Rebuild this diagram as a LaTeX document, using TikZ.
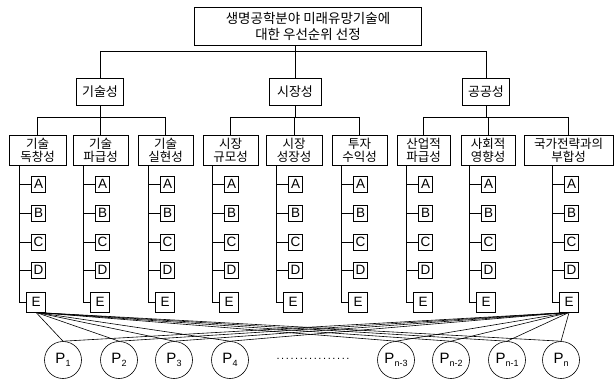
\documentclass[tikz,border=0pt]{standalone}
\usepackage{fontspec}
\setmainfont{Noto Sans CJK KR}
\newfontfamily\latinf{Liberation Sans}
\newcommand\psub[1]{P\raisebox{-3.5pt}{\fontsize{9}{9}\selectfont #1}}
\begin{document}
\begin{tikzpicture}[x=1pt,y=-1pt,
  box/.style={draw, line width=0.9pt, inner sep=1pt, align=center},
  lone/.style={box, minimum width=227pt, minimum height=38pt, font=\fontsize{13.5}{16}\selectfont},
  ltwo/.style={box, minimum width=47pt, minimum height=27pt, font=\fontsize{13}{14}\selectfont},
  lthree/.style={box, minimum height=30pt, font=\fontsize{12.5}{13}\selectfont},
  leaf/.style={box, inner sep=0pt, minimum width=14pt, minimum height=16pt, anchor=east, font=\latinf\fontsize{13.5}{13.5}\selectfont},
  eleaf/.style={leaf, minimum width=19pt, minimum height=20pt},
  pc/.style={draw, circle, line width=0.6pt, minimum size=37pt, inner sep=0pt, font=\latinf\fontsize{15}{15}\selectfont},
  ln/.style={line width=0.6pt}]
\useasboundingbox (0,0) rectangle (615,385);

\node[lone] (top) at (308,26) {생명공학분야 미래유망기술에\\대한 우선순위 선정};
\node[ltwo] (g1) at (100,91.5) {기술성};
\node[ltwo, minimum width=52pt] (g2) at (295,91.5) {시장성};
\node[ltwo] (g3) at (486,91.5) {공공성};

\node[lthree, minimum width=57pt] (c1) at (37.5,150) {기술\\독창성};
\node[lthree, minimum width=55pt] (c2) at (100.5,150) {기술\\파급성};
\node[lthree, minimum width=55pt] (c3) at (165.5,150) {기술\\실현성};
\node[lthree, minimum width=55pt] (c4) at (230.5,150) {시장\\규모성};
\node[lthree, minimum width=56pt] (c5) at (294,150) {시장\\성장성};
\node[lthree, minimum width=55pt] (c6) at (359.5,150) {투자\\수익성};
\node[lthree, minimum width=53pt] (c7) at (423.5,150) {산업적\\파급성};
\node[lthree, minimum width=54pt] (c8) at (488,150) {사회적\\영향성};
\node[lthree, minimum width=89pt] (c9) at (568.5,150) {국가전략과의\\부합성};

\coordinate (barone) at (0,51);
\coordinate (bartwo) at (0,117);

\draw[ln] (top.south -| g2.north) -- (g2.north);
\draw[ln] (g1.north |- barone) -- (g3.north |- barone);
\draw[ln] (g1.north |- barone) -- (g1.north);
\draw[ln] (g3.north |- barone) -- (g3.north);

\draw[ln] (g1.south) -- (g1.south |- bartwo);
\draw[ln] (g2.south) -- (g2.south |- bartwo);
\draw[ln] (g3.south) -- (g3.south |- bartwo);
\draw[ln] (c1.north |- bartwo) -- (c3.north |- bartwo);
\draw[ln] (c4.north |- bartwo) -- (c6.north |- bartwo);
\draw[ln] (c7.north |- bartwo) -- (c9.north |- bartwo);
\foreach \i in {1,...,9} {\draw[ln] (c\i.north |- bartwo) -- (c\i.north);}

\foreach \i/\sx in {1/19,2/83,3/148,4/212,5/276,6/341,7/406,8/469,9/552} {
  \coordinate (s\i) at (\sx,165);
  \foreach \l/\y in {A/184,B/213,C/242,D/270} {
    \node[leaf] (\l\i) at (\sx+27,\y) {\l};
    \draw[ln] (s\i |- \l\i.west) -- (\l\i.west);
  }
  \node[eleaf] (E\i) at (\sx+27,302) {E};
  \draw[ln] (s\i) |- (E\i.west);
}

\node[pc] (p1) at (63,360) {\psub{1}};
\node[pc] (p2) at (119,360) {\psub{2}};
\node[pc] (p3) at (174,360) {\psub{3}};
\node[pc] (p4) at (230,360) {\psub{4}};
\node[pc] (p5) at (396,360) {\psub{n-3}};
\node[pc] (p6) at (451,360) {\psub{n-2}};
\node[pc] (p7) at (507,360) {\psub{n-1}};
\node[pc] (p8) at (561,360) {\psub{n}};
\node[inner sep=0pt, font=\latinf\fontsize{11}{11}\selectfont] (dots) at (313,359) {.\hspace{1.6pt}.\hspace{1.6pt}.\hspace{1.6pt}.\hspace{1.6pt}.\hspace{1.6pt}.\hspace{1.6pt}.\hspace{1.6pt}.\hspace{1.6pt}.\hspace{1.6pt}.\hspace{1.6pt}.\hspace{1.6pt}.\hspace{1.6pt}.\hspace{1.6pt}.\hspace{1.6pt}.\hspace{1.6pt}.};

\foreach \j in {1,...,8} {
  \draw[ln] (E1.south) -- (p\j.north);
  \draw[ln] (E9.south) -- (p\j.north);
}
\end{tikzpicture}
\end{document}
